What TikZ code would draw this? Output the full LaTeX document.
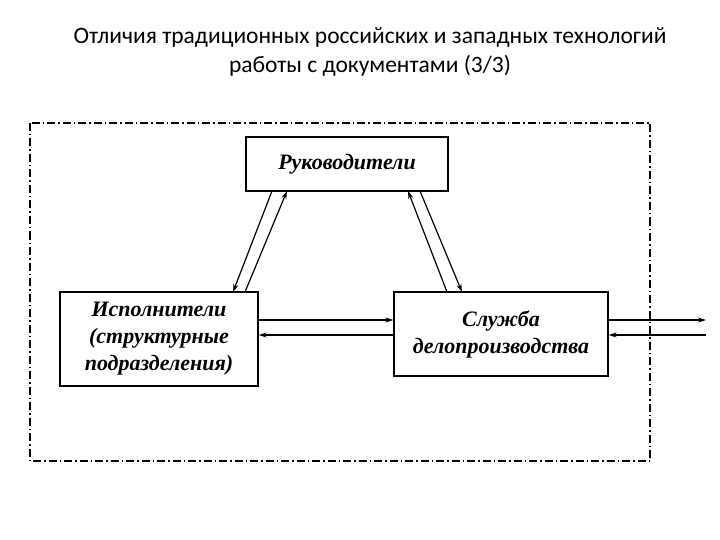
\documentclass[tikz,border=0pt]{standalone}
\usepackage{fontspec}
\setmainfont{Liberation Serif}
\newfontfamily\titlefont{Carlito}
\usetikzlibrary{arrows.meta}
\begin{document}
\begin{tikzpicture}[x=1pt,y=-1pt,
  box/.style={draw,line width=1.3pt,font=\fontsize{22}{27}\selectfont\bfseries\itshape,align=center,inner sep=0pt},
  arr/.style={line width=1.2pt,-{Stealth[length=8pt,width=5pt]}}]
\useasboundingbox (0,0) rectangle (720,540);
\node[font=\titlefont\fontsize{23.5}{29}\selectfont,align=center] (title) at (370,52) {Отличия традиционных российских и западных технологий\\работы с документами (3/3)};
\draw[line width=1.2pt,dash pattern=on 8pt off 3pt on 1.5pt off 3pt] (30,123) rectangle (650,461);
\node[box,minimum width=202pt,minimum height=54pt] (r) at (347,164) {Руководители};
\node[box,minimum width=198pt,minimum height=94pt] (i) at (159,339) {Исполнители\\(структурные\\подразделения)};
\node[box,minimum width=214pt,minimum height=84pt] (s) at (501,334) {Служба\\делопроизводства};
\coordinate (a1) at (272,191); \coordinate (a2) at (233,292);
\coordinate (b1) at (245,292); \coordinate (b2) at (287,191);
\coordinate (c1) at (447,292); \coordinate (c2) at (408,191);
\coordinate (d1) at (420,191); \coordinate (d2) at (462,292);
\draw[arr] (a1) -- (a2);
\draw[arr] (b1) -- (b2);
\draw[arr] (c1) -- (c2);
\draw[arr] (d1) -- (d2);
\draw[arr] (i.east |- 0,320) -- (s.west |- 0,320);
\draw[arr] (s.west |- 0,335) -- (i.east |- 0,335);
\coordinate (o1) at (706,320); \coordinate (o2) at (706,335);
\draw[arr] (s.east |- 0,320) -- (o1);
\draw[arr] (o2) -- (s.east |- 0,335);
\end{tikzpicture}
\end{document}
